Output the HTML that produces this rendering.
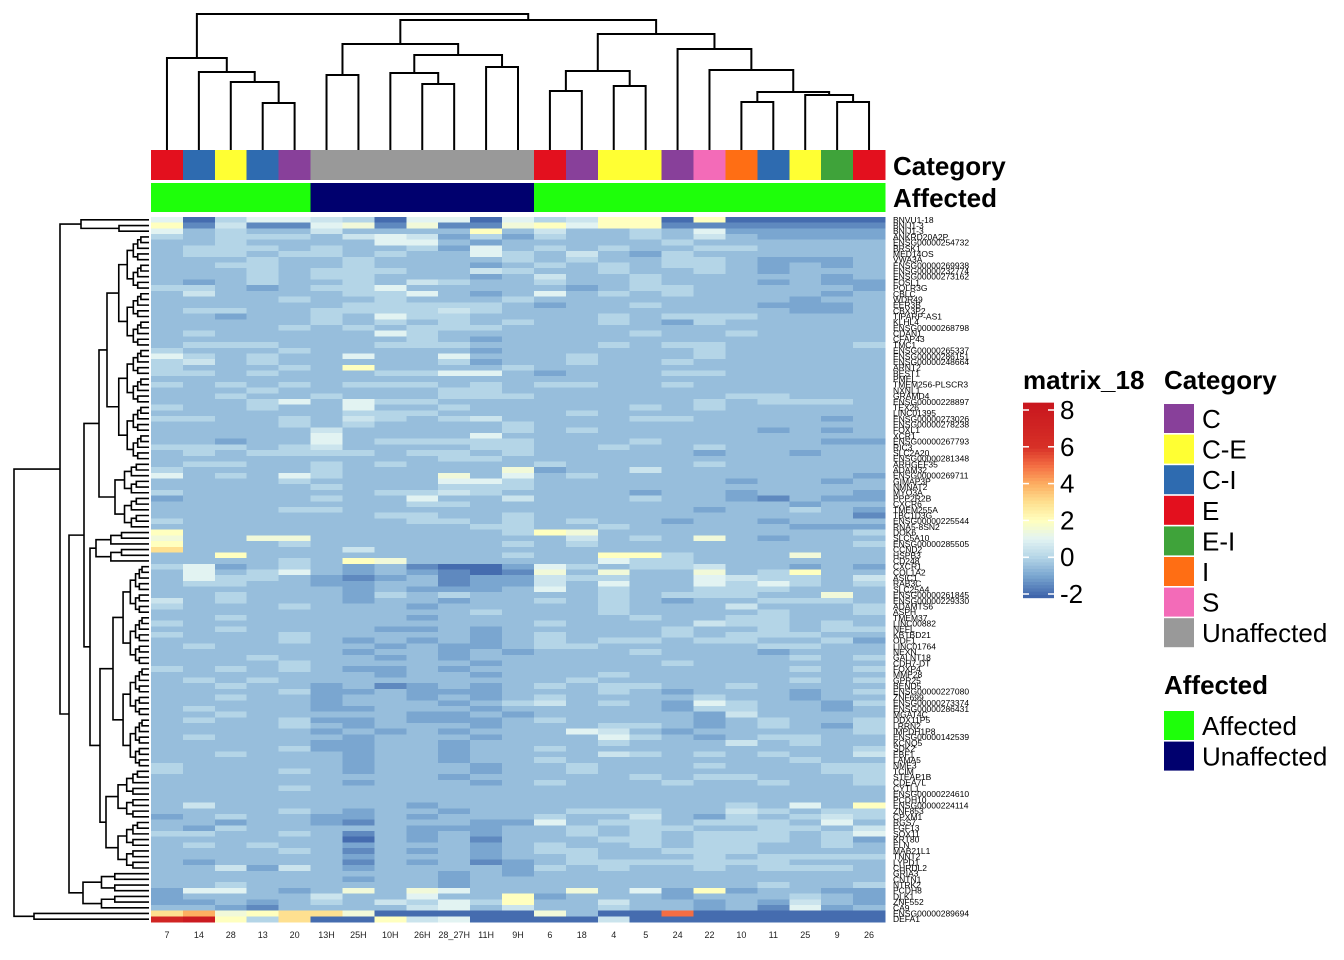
<!DOCTYPE html>
<html><head><meta charset="utf-8"><title>matrix_18 heatmap</title>
<style>
html,body{margin:0;padding:0;background:#fff;}
svg{display:block;font-family:"Liberation Sans",Arial,sans-serif;}
</style></head>
<body>
<svg id="chart" width="1344" height="960" viewBox="0 0 1344 960" xmlns="http://www.w3.org/2000/svg">
<g id="cells" shape-rendering="crispEdges"></g>
<g id="annot" shape-rendering="crispEdges"></g>
<g id="coldend"></g>
<g id="rowdend"></g>
<g id="collabels"></g>
<g id="rowlabels"></g>
<text x="893" y="175" font-size="26" font-weight="bold">Category</text>
<text x="893" y="207" font-size="26" font-weight="bold">Affected</text>
<g id="legend"></g>
</svg>
<script>
// ---- data ----
const colNames = ["7","14","28","13","20","13H","25H","10H","26H","28_27H","11H","9H","6","18","4","5","24","22","10","11","25","9","26"];
const colCategory = ["E","C-I","C-E","C-I","C","Unaffected","Unaffected","Unaffected","Unaffected","Unaffected","Unaffected","Unaffected","E","C","C-E","C-E","C","S","I","C-I","C-E","E-I","E"];
const colAffected = ["Affected","Affected","Affected","Affected","Affected","Unaffected","Unaffected","Unaffected","Unaffected","Unaffected","Unaffected","Unaffected","Affected","Affected","Affected","Affected","Affected","Affected","Affected","Affected","Affected","Affected","Affected"];
const categoryLevels = ["C","C-E","C-I","E","E-I","I","S","Unaffected"];
const categoryColors = ["#88409A","#FFFF33","#2E6BB0","#E3101E","#3FA33A","#FF6E14","#F36BB8","#999999"];
const affectedLevels = ["Affected","Unaffected"];
const affectedColors = ["#1EFF0A","#00006E"];
const legendTicks = [8,6,4,2,0,-2];
// value codes: a=-2 b=-1.5 c=-1 d=-0.5 e=0 f=0.5 g=1 h=1.5 i=2 j=3 k=4 l=5 m=6 n=7 o=8
const codeValues = {a:-2,b:-1.5,c:-1,d:-0.5,e:0,f:0.5,g:1,h:1.5,i:2,j:3,k:4,l:5,m:6,n:7,o:8};
const rowValues = [
"gaegg feaggag efiiaiaaaaa","ibfbb ghbhbbh igiibbbbbbb","gdedd fddddid fddedgccccc","edeee dfgfcec eddedfdcccc",
"ddedd ddggdcd ddddedddddd","deeed eddecgd ededdeedddd","deede ededdge dfdcedddddd","ddded dedddde deddeedcccd",
"ddeed dedddcd ededeedcdcd","ddded eeeddfe ddeddedcddd","ddded eedddcd fddedddddcd","dcded dedfedd eddedddcdcc",
"eedcd eegdddd dcdeedddddc","dfddd deegdcd gdededdddcd","dddde ddeddde ddddddddcdd","ddddd deeeeed cddedddcccd",
"deedd eeeefed ddddddddccd","ddcdd edgeedd ddedeeedddd","ddddd ededede ddedceddddd","dddde dedeeed ddddddddddd",
"deddd ddgeddd dddeddedddd","ddddd dddedcd ddddddddddd","deeed ddeeedd ddedeedddde","eddde dddddcd dddddeddddd",
"geded dgddgdd dedddeddddd","efded ddddecd deddedddddd","eddde didddde ddddddddddd","eeded ddeeggd cdddeeddddd",
"ddddd ddddddd ddddddddddd","edede deeeded eeddedddddd","ddded ddddeed ddddddddddd","ddedd edddeee ddddddeeddd",
"dddeg dgeeddd dddddedeeed","edded dgddedd dddededdddd","ddddd deeeddd deddddddddd","eedde dfedefd dddeeddddcd",
"dddde dedddde ddddddddddd","ddddd fddddde dedddddcdcd","ddddd gddddgd ddddddddddd","ddcdd gdeeeee dddedddddcc",
"eeede fddddee ddeddeddddd","dedee eedeede dddddcddcdd","ddddd ddddeed ddddddddddd","deedd ededddd eddddeddddd",
"edddd edddddh cddfddddddd","gdedg edddhdg deddddddddc","dddde ddddgge ddddddcddcd","ddddd edddeee ddddddddddd",
"edddd ddeefed dddcddcdddc","cdddd eddgddf dddeddcbdcc","ddddd dddeedd ddddddddcdd","dddde edddddd dddddcddedc",
"ddddd ddeedde ddddddddddb","edddd dddeede deddcddcddd","ddddd dddddee ddedddddccc","idddd dddddde ihdddddddde",
"hddhh ddddddd dfdedhdcddd","iddde dddddde dedddddddde","jdddd dfddddd ddddddddddd","ddidd dddddde ddiiedddhdd",
"dddde dihdddd ddgeedddddd","egcde dcdbaac gedeefddcdc","dgdeg dcdcbab hdhddhdeidd","dgeed cbcdbcc feeddgfeedf",
"deedd ccddbcc fdgddgegede","ddddd dcdcccd gdeddeeeddd","ddedd dcededd ddedeeeddhd","fdedd dcddcdd ededcddeeed",
"eddde dddcddd ddedddfddde","ddddd ddddded ddeddddedde","ddedd dddcddd dddeddeeddd","edddd ddddddd eddddfeeded",
"ddedd ddccdcd ddddeddedee","eddde dddddcd edddedeeedd","dddde dcdcdcd edeedeeddec","deddd ddcdccd eedddddeedd",
"ddddd dcddcdc dddedddcddd","ddded ddcdcdd ddddddddede","dddde dddddcd ddddedddddd","edede dccdcdd ddddddddede",
"ddddd ddcddcd ddedddddddd","deded ddddddd deddddddede","ddedd cdbcdcd edeeddedddd","dddde ccdcccd ddedcdddcde",
"ddedd cddcdcd eddddeddcdd","ddddd cdddcde fdedcgeddce","deddd ccdddcd ddddceeddcd","ddedd dddccdc dddddcfdddd",
"dedde ccdcccd eddddcdedde","dddde dcdddcd ddeedcdedce","ddddd cdcdcdd dgfdcddddde","deddd dcdddcd ddgedcdeedd",
"ddddd ccddcdd ddedddfdedd","dddde ccddcdd eddddddddde","ddedd dcddcdd ddfedededdf","ddddd dcddcdd edddddddedd",
"edddd dcdddcd dedddedddee","eddde dcdddcd dedddddddee","ddddd ddddcdd dddedeeddde","ddddd dcdddcd edddeddedde",
"dddde ddddddd ddddddddddd","ddddd ddddddd ddddddddddd","ddddd ddddddd ddddddddddd","dfddd dddcddd ddddddedgdi",
"dddde dcddcdd deeeddfedee","cdedd ccdcddd eddfdcedefe","ddcdd cbdddcc gdeedeeedgd","dcedd dddcccd dedeeddeedf",
"eedde dbdcdcd dededeeedeg","ddddd dadcdbd ddeedeeedec","deded dcdddcd eddedeedded","dddde dbdcdcd eeddeeedddd",
"ddddd dcdddcd dedddedeeee","dcddd dbdcdbc deeeeeeeddd","ddfcf dcddddc ededdedeeed","ddddd ddddcdc ddddddddddd",
"ddddd dcddcdd ddddddddddd","ddedd ddddcdd dddddddedde","cggdc dhdhgdd dhdgcicddcc","cdddd fddgddi cdddcdddedc",
"ccdcd edfegei ddfddcdcfdc","ddcbd dddfgdf ddeddcdbgcd","jkhij jhaaaaa hdaalaaaaaa","noiej aaifgaa aafaaaaaaaa"
];
const rowNames = ["BNVU1-18","BNIJ1-3","BNIJ1-3","ANKRD20A2P","ENSG00000254732","BRSK1","MED14OS","VWA3A","ENSG00000269938","ENSG00000232774","ENSG00000273162","FOSL1","POLR3G","CBLC","WDR49","EER3B","CBX3P2","TIPARP-AS1","KLHL4","ENSG00000268798","CDAN1","CFAP43","TMC1","ENSG00000265337","ENSG00000286151","ENSG00000248664","ARNT2","BEST1","PMEL","TMEM256-PLSCR3","NXNL1","GRAMD4","ENSG00000228897","TEX26","LINC01395","ENSG00000273026","ENSG00000278238","FOXL1","XCR1","ENSG00000267793","RIC3","SLC2A20","ENSG00000281348","ARHGEF35","ADAM32","ENSG00000269711","GIMAP3P","NMNAT2","MYO3A","PPP2R2B","CXCR6","TMEM255A","TBC1D3G","ENSG00000225544","RNA5-8SN2","DOK6","SLC5A10","ENSG00000285505","CCND2","HSPB3","CD248","CXCR1","COL1A2","ASIC1","RAB3C","SLC25A4","ENSG00000261845","ENSG00000229330","ADAMTS6","ASPH","TMEM37","LINC00882","NEFL","KBTBD21","ODF1","LINC01764","NEXN","GALNT18","CDH7-DT","FOXP4","MMP28","GPR25","BEND5","ENSG00000227080","ZNF699","ENSG00000273374","ENSG00000286431","MGAT4C","DDX11P5","LRRN2","IMPDH1P8","ENSG00000142539","KCNQ5","SDK2","EBF1","LAMA5","NME3","TCIM","STEAP1B","CDEA7L","CYTL1","ENSG00000224610","PCDH10","ENSG00000224114","ZNF853","CPXM1","RGS7","FGF13","SOX11","KRT80","ELN","MAB21L1","TNNT2","LYPD1","CHRDL2","GRIA3","CNTN1","NTRK2","PCDH8","DLK1","ZNF552","CA9","ENSG00000289694","DEFA1"];
// column dendrogram: [height, left, right]; leaves are column indices
const colTree = [136,[92,0,[78,1,[68,2,[47,3,4]]]],[130,[106,[75,5,6],[95,[77,7,[66,8,9]],[83,10,11]]],[116,[79,[59,12,13],[64,14,15]],[101,16,[80,17,[58,[48,18,19],[55,20,[48,21,22]]]]]]]];
// row dendrogram: [xpos, left, right] with range blocks {a,b,x}
const rowTree = [14,[60,[81,0,[119,1,2]],[69,[84,[99,{a:3,b:42,x:107},{a:43,b:54,x:115}],[90,{a:55,b:60,x:96},[100,{a:61,b:96,x:113},{a:97,b:114,x:106}]]],{a:115,b:121,x:83}]],[34,122,123]];

// ---- layout ----
const NS="http://www.w3.org/2000/svg";
const X0=151,X1=885,Y0=217,Y1=922;
const nC=colNames.length,nR=rowValues.length;
const cw=(X1-X0)/nC, rh=(Y1-Y0)/nR;
const xCol=i=>X0+cw*i, xMid=i=>X0+cw*(i+0.5);
const yRow=r=>Y0+rh*r, yMid=r=>Y0+rh*(r+0.5);
function el(tag,attrs,parent){const e=document.createElementNS(NS,tag);for(const k in attrs)e.setAttribute(k,attrs[k]);parent.appendChild(e);return e;}
const stops=[[-2.2,[58,96,168]],[-1,[122,166,208]],[0,[180,213,231]],[1,[226,243,242]],[2,[255,255,191]],[3,[254,224,144]],[4,[253,174,97]],[5,[244,109,67]],[6,[215,48,39]],[8.4,[200,22,30]]];
function color(v){
  if(v<=stops[0][0])return rgb(stops[0][1]);
  for(let i=1;i<stops.length;i++){if(v<=stops[i][0]){const t=(v-stops[i-1][0])/(stops[i][0]-stops[i-1][0]);const a=stops[i-1][1],b=stops[i][1];return rgb(a.map((c,k)=>c+(b[k]-c)*t));}}
  return rgb(stops[stops.length-1][1]);
}
function rgb(c){return "rgb("+c.map(Math.round).join(",")+")";}

// cells
const gc=document.getElementById("cells");
rowValues.forEach((s,r)=>{
  const codes=s.replace(/ /g,"").padEnd(nC,"d").slice(0,nC);
  for(let c=0;c<nC;c++){
    const v=codeValues[codes[c]];
    const rect=el("rect",{x:xCol(c).toFixed(2),y:yRow(r).toFixed(2),width:(cw+0.6).toFixed(2),height:(rh+0.6).toFixed(2),fill:color(v)},gc);
    
    
  }
});

// annotations
const ga=document.getElementById("annot");
for(let c=0;c<nC;c++){
  const r1=el("rect",{x:xCol(c).toFixed(2),y:150,width:(cw+0.6).toFixed(2),height:30,fill:categoryColors[categoryLevels.indexOf(colCategory[c])]},ga);
  
  
  const r2=el("rect",{x:xCol(c).toFixed(2),y:183,width:(cw+0.6).toFixed(2),height:29,fill:affectedColors[affectedLevels.indexOf(colAffected[c])]},ga);
  
  
}

// column dendrogram
const gd=document.getElementById("coldend");
const ybase=150;
function drawCol(n){
  if(typeof n==="number")return {x:xMid(n),y:ybase};
  const a=drawCol(n[1]),b=drawCol(n[2]);const y=ybase-n[0];
  const p=el("path",{d:`M${a.x},${a.y}V${y}H${b.x}V${b.y}`,fill:"none",stroke:"#000","stroke-width":2},gd);
  
  
  return {x:(a.x+b.x)/2,y:y};
}
drawCol(colTree);

// row dendrogram
const gr=document.getElementById("rowdend");
const xbase=149;
function ladder(a,b,x){
  if(a===b)return a;
  const m=Math.floor((a+b)/2);const nx=x+(xbase-x)*0.28;
  return [x,ladder(a,m,nx),ladder(m+1,b,nx)];
}
function expand(n){
  if(typeof n==="number")return n;
  if(!Array.isArray(n))return ladder(n.a,n.b,n.x);
  return [n[0],expand(n[1]),expand(n[2])];
}
function drawRow(n){
  if(typeof n==="number")return {x:xbase,y:yMid(n)};
  const a=drawRow(n[1]),b=drawRow(n[2]);const x=n[0];
  const p=el("path",{d:`M${a.x},${a.y.toFixed(2)}H${x}V${b.y.toFixed(2)}H${b.x}`,fill:"none",stroke:"#000","stroke-width":1.6},gr);
  
  
  return {x:x,y:(a.y+b.y)/2};
}
drawRow(expand(rowTree));

// labels
const gcl=document.getElementById("collabels");
colNames.forEach((n,c)=>{
  const t=el("text",{x:xMid(c).toFixed(1),y:938,"font-size":9,"text-anchor":"middle",fill:"#222"},gcl);
  t.textContent=n;
  
  
});
const grl=document.getElementById("rowlabels");
for(let r=0;r<nR;r++){
  const t=el("text",{x:893,y:(yMid(r)+3).toFixed(1),"font-size":8.5,fill:"#000"},grl);
  t.textContent=rowNames[r]||"";
  
  
}

// legends
const gl=document.getElementById("legend");
const lt=el("text",{x:1023,y:389,"font-size":26,"font-weight":"bold"},gl);lt.textContent="matrix_18";


const yv=v=>594-(v+2)*18.4;
const nStep=60;
for(let i=0;i<nStep;i++){
  const v0=-2.2+i*(10.6/nStep);
  const rr=el("rect",{x:1023,y:yv(v0+10.6/nStep).toFixed(2),width:31,height:(18.4*10.6/nStep+0.5).toFixed(2),fill:color(v0+5.3/nStep)},gl);
  
  
}
legendTicks.forEach(v=>{
  const y=yv(v);
  const t1=el("line",{x1:1023,x2:1029,y1:y,y2:y,stroke:"#fff","stroke-width":1.5},gl);
  
  
  const t2=el("line",{x1:1048,x2:1054,y1:y,y2:y,stroke:"#fff","stroke-width":1.5},gl);
  
  
  const tx=el("text",{x:1060,y:y+9,"font-size":26},gl);tx.textContent=String(v);
  
  
});
const ct=el("text",{x:1164,y:389,"font-size":26,"font-weight":"bold"},gl);ct.textContent="Category";


categoryLevels.forEach((n,i)=>{
  const y=404+i*30.6;
  const s=el("rect",{x:1164,y:y,width:30,height:29,fill:categoryColors[i]},gl);
  
  
  const t=el("text",{x:1202,y:y+24,"font-size":26},gl);t.textContent=n;
  
  
});
const at=el("text",{x:1164,y:694,"font-size":26,"font-weight":"bold"},gl);at.textContent="Affected";


affectedLevels.forEach((n,i)=>{
  const y=711+i*30.6;
  const s=el("rect",{x:1164,y:y,width:30,height:29,fill:affectedColors[i]},gl);
  
  
  const t=el("text",{x:1202,y:y+24,"font-size":26},gl);t.textContent=n;
  
  
});
</script>
</body></html>
